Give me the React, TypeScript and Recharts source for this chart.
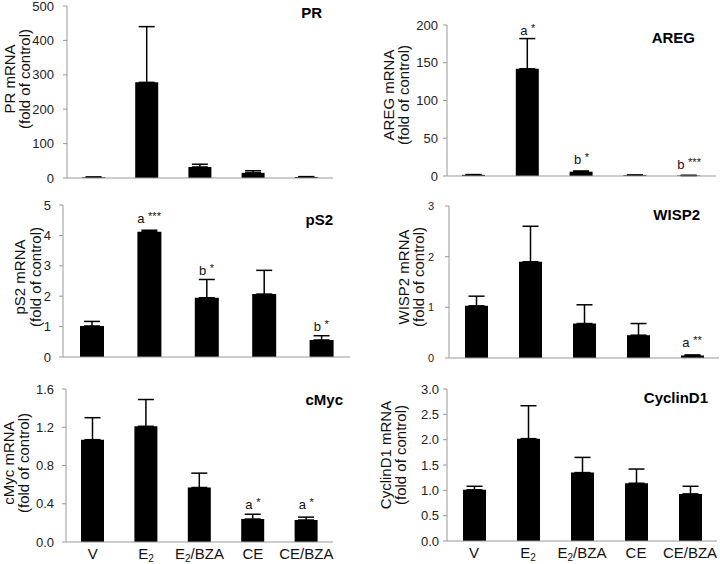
import React from "react";
import { Bar, BarChart, ErrorBar, ReferenceDot, XAxis, YAxis } from "recharts";

const FONT = "'Liberation Sans', Arial, sans-serif";

// treatment groups (x axis)
const groups = ["V", "E2", "E2/BZA", "CE", "CE/BZA"];

// mean fold of control and upper error
const prMean = [2, 278, 32, 15, 3];
const prErr = [1, 162, 8, 6, 1];
const prTicks = [0, 100, 200, 300, 400, 500];

const aregMean = [1.5, 142, 5.7, 1, 0.6];
const aregErr = [0.4, 40, 1, 0.3, 0.2];
const aregTicks = [0, 50, 100, 150, 200];
const aregNotes = [
  { group: "E2", y: 193, text: "a *" },
  { group: "E2/BZA", y: 22, text: "b *" },
  { group: "CE/BZA", y: 15, text: "b ***" },
];

const ps2Mean = [1.02, 4.12, 1.95, 2.07, 0.56];
const ps2Err = [0.15, 0.05, 0.6, 0.78, 0.14];
const ps2Ticks = [0, 1, 2, 3, 4, 5];
const ps2Notes = [
  { group: "E2", y: 4.54, text: "a ***" },
  { group: "E2/BZA", y: 2.83, text: "b *" },
  { group: "CE/BZA", y: 0.99, text: "b *" },
];

const wisp2Mean = [1.03, 1.9, 0.68, 0.45, 0.05];
const wisp2Err = [0.19, 0.7, 0.37, 0.23, 0.01];
const wisp2Ticks = [0, 1, 2, 3];
const wisp2Notes = [{ group: "CE/BZA", y: 0.31, text: "a **" }];

const cmycMean = [1.07, 1.21, 0.57, 0.24, 0.23];
const cmycErr = [0.23, 0.28, 0.15, 0.05, 0.03];
const cmycTicks = [0, 0.4, 0.8, 1.2, 1.6];
const cmycNotes = [
  { group: "CE", y: 0.39, text: "a *" },
  { group: "CE/BZA", y: 0.39, text: "a *" },
];

const cyclinMean = [1.01, 2.02, 1.35, 1.14, 0.93];
const cyclinErr = [0.07, 0.65, 0.3, 0.28, 0.15];
const cyclinTicks = [0, 0.5, 1, 1.5, 2, 2.5, 3];

type Note = { group: string; y: number; text: string };

const toRows = (mean: number[], err: number[]) =>
  groups.map((g, i) => ({ group: g, mean: mean[i], err: [0, err[i]] }));

const GroupTick = (props: any) => {
  const { x, y, payload } = props;
  const v: string = payload.value;
  const hasSub = v.startsWith("E2");
  return (
    <text x={x} y={y} dy="0.62em" textAnchor="middle" fontSize={15} fill="#111" fontFamily={FONT}>
      {hasSub ? (
        <>
          <tspan>E</tspan>
          <tspan dy={3} fontSize={10}>2</tspan>
          {v.length > 2 && <tspan dy={-3}>{v.slice(2)}</tspan>}
        </>
      ) : (
        v
      )}
    </text>
  );
};

const noteLabel = (text: string) => (p: any) => {
  const vb = p.viewBox || {};
  const [letter, stars] = text.split(" ");
  return (
    <text x={vb.x} y={vb.y + 4.5} textAnchor="middle" fontSize={13} fill="#111" fontFamily={FONT}>
      <tspan>{letter} </tspan>
      <tspan dy={-3} fontSize={11}>{stars}</tspan>
    </text>
  );
};

type PanelProps = {
  data: { group: string; mean: number; err: number[] }[];
  ticks: number[];
  fmt?: (v: number) => string;
  notes?: Note[];
  left: number;
  x0: number;
  x1: number;
  yTop: number;
  yBottom: number;
  gap: number;
  showX?: boolean;
  tickFont?: number;
  barSize?: number;
};

const Panel = ({ data, ticks, fmt, notes = [], left, x0, x1, yTop, yBottom, gap, showX, tickFont = 13, barSize = 23 }: PanelProps) => {
  const xh = showX ? 22 : 1;
  const mb = showX ? 0 : 10;
  const top = yTop - 12;
  const height = yBottom - yTop + 12 + xh + mb;
  const yw = 40;
  return (
    <div style={{ position: "absolute", left, top, width: 360, height }}>
      <BarChart
        width={360}
        height={height}
        data={data}
        margin={{ top: 12, bottom: mb, left: x0 - left - yw, right: left + 360 - x1 }}
      >
        <XAxis
          dataKey="group"
          height={xh}
          axisLine={{ stroke: "#999" }}
          tickLine={false}
          tick={showX ? <GroupTick /> : false}
          interval={0}
        />
        <YAxis
          width={yw}
          domain={[0, ticks[ticks.length - 1]]}
          ticks={ticks}
          interval={0}
          tickFormatter={fmt}
          axisLine={{ stroke: "#999" }}
          tickLine={{ stroke: "#999" }}
          tickSize={4}
          tickMargin={gap - 4}
          tick={{ fontSize: tickFont, fill: "#222", fontFamily: FONT }}
        />
        <Bar dataKey="mean" fill="#000" barSize={barSize} isAnimationActive={false}>
          <ErrorBar dataKey="err" direction="y" width={8} stroke="#000" strokeWidth={1.5} />
        </Bar>
        {notes.map((n, i) => (
          <ReferenceDot
            key={i}
            x={n.group}
            y={n.y}
            r={0}
            stroke="none"
            fill="none"
            label={{ content: noteLabel(n.text) }}
          />
        ))}
      </BarChart>
    </div>
  );
};

const YLabel = ({ b1, b2, cy, name }: { b1: number; b2: number; cy: number; name: string }) => (
  <g fontFamily={FONT} fontSize={15} fill="#111" textAnchor="middle">
    <text transform={`translate(${b1},${cy}) rotate(-90)`}>{name} mRNA</text>
    <text transform={`translate(${b2},${cy}) rotate(-90)`}>(fold of control)</text>
  </g>
);

const Title = ({ x, y, text }: { x: number; y: number; text: string }) => (
  <text x={x} y={y} textAnchor="end" fontFamily={FONT} fontSize={15} fontWeight="bold" fill="#000">
    {text}
  </text>
);

const one = (v: number) => v.toFixed(1);

export default function App() {
  return (
    <div style={{ position: "absolute", left: 0, top: 0, width: 720, height: 564, background: "#fff", overflow: "hidden" }}>
      <Panel data={toRows(prMean, prErr)} ticks={prTicks} left={0} x0={67} x1={333} yTop={6} yBottom={178} gap={13} />
      <Panel data={toRows(aregMean, aregErr)} ticks={aregTicks} notes={aregNotes} left={360} x0={447} x1={716} yTop={25} yBottom={176} gap={9} />
      <Panel data={toRows(ps2Mean, ps2Err)} ticks={ps2Ticks} notes={ps2Notes} left={0} x0={63} x1={350} yTop={205} yBottom={357} gap={12} barSize={24} />
      <Panel data={toRows(wisp2Mean, wisp2Err)} ticks={wisp2Ticks} notes={wisp2Notes} left={360} x0={449} x1={719} yTop={206} yBottom={358} gap={15} tickFont={11} />
      <Panel data={toRows(cmycMean, cmycErr)} ticks={cmycTicks} fmt={one} notes={cmycNotes} left={0} x0={66} x1={333} yTop={389} yBottom={542} gap={12} showX />
      <Panel data={toRows(cyclinMean, cyclinErr)} ticks={cyclinTicks} fmt={one} left={360} x0={447} x1={717} yTop={389} yBottom={541} gap={8} showX />
      <svg width={720} height={564} style={{ position: "absolute", left: 0, top: 0, pointerEvents: "none" }}>
        <YLabel b1={15} b2={30} cy={79} name="PR" />
        <YLabel b1={394} b2={409} cy={95} name="AREG" />
        <YLabel b1={25} b2={41} cy={277} name="pS2" />
        <YLabel b1={409} b2={424} cy={277} name="WISP2" />
        <YLabel b1={14} b2={29} cy={463} name="cMyc" />
        <YLabel b1={391} b2={406} cy={455} name="CyclinD1" />
        <Title x={322} y={18} text="PR" />
        <Title x={695} y={43} text="AREG" />
        <Title x={333} y={225} text="pS2" />
        <Title x={700} y={220} text="WISP2" />
        <Title x={343} y={405} text="cMyc" />
        <Title x={708} y={403} text="CyclinD1" />
      </svg>
    </div>
  );
}
